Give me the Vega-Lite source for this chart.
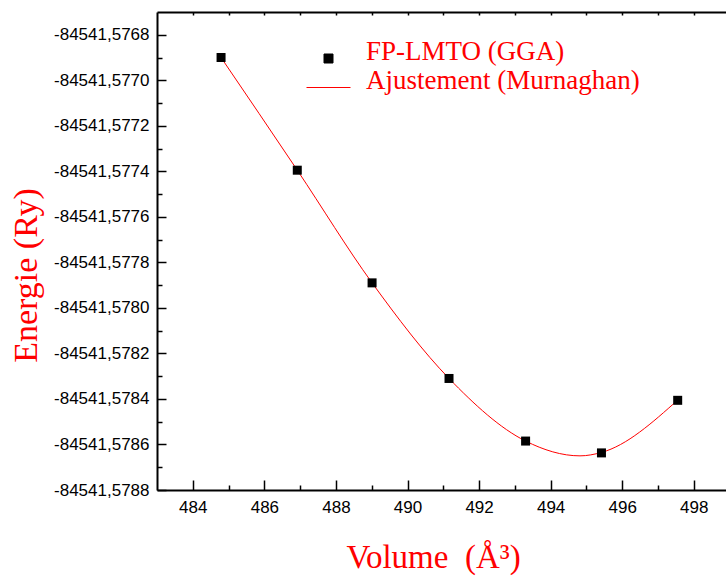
{
  "$schema": "https://vega.github.io/schema/vega-lite/v6.json",
  "width": 569,
  "height": 478,
  "autosize": {"type": "none"},
  "padding": {"left": 157, "top": 12, "right": 0, "bottom": 87},
  "background": "white",
  "config": {"view": {"stroke": null}},
  "datasets": {
    "pts": [
      {"V": 484.79, "E": -84541.57690, "series": "FP-LMTO (GGA)"},
      {"V": 486.92, "E": -84541.577395, "series": "FP-LMTO (GGA)"},
      {"V": 489.01, "E": -84541.57789, "series": "FP-LMTO (GGA)"},
      {"V": 491.16, "E": -84541.57831, "series": "FP-LMTO (GGA)"},
      {"V": 493.30, "E": -84541.578585, "series": "FP-LMTO (GGA)"},
      {"V": 495.42, "E": -84541.578637, "series": "FP-LMTO (GGA)"},
      {"V": 497.55, "E": -84541.578406, "series": "FP-LMTO (GGA)"}
    ],
    "fit": [
      {"V": 484.79, "E": -84541.57690, "series": "Ajustement (Murnaghan)"},
      {"V": 486.92, "E": -84541.577395, "series": "Ajustement (Murnaghan)"},
      {"V": 489.01, "E": -84541.57789, "series": "Ajustement (Murnaghan)"},
      {"V": 491.16, "E": -84541.57831, "series": "Ajustement (Murnaghan)"},
      {"V": 493.30, "E": -84541.578585, "series": "Ajustement (Murnaghan)"},
      {"V": 494.82, "E": -84541.57865, "series": "Ajustement (Murnaghan)"},
      {"V": 495.42, "E": -84541.578635, "series": "Ajustement (Murnaghan)"},
      {"V": 497.55, "E": -84541.578405, "series": "Ajustement (Murnaghan)"}
    ]
  },
  "resolve": {"axis": {"x": "independent", "y": "independent"}},
  "layer": [
    {
      "data": {"name": "fit"},
      "mark": {"type": "line", "strokeWidth": 1, "interpolate": "monotone"},
      "encoding": {
        "x": {
          "field": "V", "type": "quantitative",
          "scale": {"domain": [483, 498.9], "zero": false, "nice": false},
          "axis": {
            "orient": "bottom",
            "title": "Volume\u00a0 (Å³)",
            "titleFont": "Liberation Serif", "titleFontSize": 33, "titleColor": "red", "titleFontWeight": "normal",
            "titlePadding": 26,
            "titleX": 276,
            "values": [484, 486, 488, 490, 492, 494, 496, 498],
            "labelFont": "Liberation Sans", "labelFontSize": 17, "labelColor": "black",
            "labelPadding": 9,
            "labelFlush": false,
            "ticks": false,
            "domainColor": "black", "domainWidth": 2,
            "grid": false
          }
        },
        "y": {
          "field": "E", "type": "quantitative",
          "scale": {"domain": [-84541.5788, -84541.5767], "zero": false, "nice": false},
          "axis": {
            "orient": "left",
            "title": "Energie (Ry)",
            "titleFont": "Liberation Serif", "titleFontSize": 34, "titleColor": "red", "titleFontWeight": "normal",
            "titlePadding": 10,
            "titleY": 263,
            "values": [-84541.5788, -84541.5786, -84541.5784, -84541.5782, -84541.5780, -84541.5778, -84541.5776, -84541.5774, -84541.5772, -84541.5770, -84541.5768],
            "labelExpr": "'-' + replace(format(abs(datum.value), '.4f'), '.', ',')",
            "labelFont": "Liberation Sans", "labelFontSize": 17, "labelColor": "black",
            "labelPadding": 8,
            "labelFlush": false,
            "ticks": false,
            "domainColor": "black", "domainWidth": 2,
            "grid": false
          }
        },
        "color": {
          "field": "series", "type": "nominal",
          "scale": {"domain": ["FP-LMTO (GGA)", "Ajustement (Murnaghan)"], "range": ["black", "red"]},
          "legend": {
            "orient": "none", "legendX": 149, "legendY": 24,
            "title": null, "padding": 0,
            "labelFont": "Liberation Serif", "labelFontSize": 27, "labelColor": "red",
            "labelLimit": 600,
            "labelOffset": 15, "rowPadding": 0,
            "symbolSize": 784,
            "encode": {
              "labels": {"update": {"dy": {"value": -7}}},
              "symbols": {
                "update": {
                  "shape": {"signal": "datum.label === 'FP-LMTO (GGA)' ? 'square' : 'stroke'"},
                  "size": {"signal": "datum.label === 'FP-LMTO (GGA)' ? 81 : 1936"},
                  "fill": {"signal": "datum.label === 'FP-LMTO (GGA)' ? 'black' : 'transparent'"},
                  "stroke": {"signal": "datum.label === 'FP-LMTO (GGA)' ? 'black' : 'red'"},
                  "strokeWidth": {"value": 1},
                  "opacity": {"value": 1}
                }
              }
            }
          }
        }
      }
    },
    {
      "data": {"name": "pts"},
      "mark": {"type": "point", "shape": "square", "filled": true, "size": 81, "opacity": 1},
      "encoding": {
        "x": {
          "field": "V", "type": "quantitative",
          "axis": {
            "orient": "bottom", "title": null, "labels": false, "domain": false, "grid": false,
            "offset": -10,
            "values": [484, 486, 488, 490, 492, 494, 496, 498],
            "ticks": true, "tickSize": 10, "tickColor": "black", "tickWidth": 1.5
          }
        },
        "y": {
          "field": "E", "type": "quantitative",
          "axis": {
            "orient": "left", "title": null, "labels": false, "domain": false, "grid": false,
            "offset": -9,
            "values": [-84541.5788, -84541.5786, -84541.5784, -84541.5782, -84541.5780, -84541.5778, -84541.5776, -84541.5774, -84541.5772, -84541.5770, -84541.5768],
            "ticks": true, "tickSize": 9, "tickColor": "black", "tickWidth": 1.5
          }
        },
        "color": {"field": "series", "type": "nominal"}
      }
    },
    {
      "data": {"name": "pts"},
      "mark": {"type": "point", "shape": "square", "filled": true, "size": 81, "opacity": 0},
      "encoding": {
        "x": {
          "field": "V", "type": "quantitative",
          "axis": {
            "orient": "bottom", "title": null, "labels": false, "domain": false, "grid": false,
            "offset": -5,
            "values": [485, 487, 489, 491, 493, 495, 497],
            "ticks": true, "tickSize": 5, "tickColor": "black", "tickWidth": 1.5
          }
        },
        "y": {
          "field": "E", "type": "quantitative",
          "axis": {
            "orient": "left", "title": null, "labels": false, "domain": false, "grid": false,
            "offset": -5,
            "values": [-84541.5787, -84541.5785, -84541.5783, -84541.5781, -84541.5779, -84541.5777, -84541.5775, -84541.5773, -84541.5771, -84541.5769],
            "ticks": true, "tickSize": 5, "tickColor": "black", "tickWidth": 1.5
          }
        }
      }
    },
    {
      "data": {"name": "pts"},
      "mark": {"type": "point", "shape": "square", "filled": true, "size": 81, "opacity": 0},
      "encoding": {
        "x": {
          "field": "V", "type": "quantitative",
          "axis": {
            "orient": "top", "title": null, "labels": false, "grid": false,
            "values": [484, 485, 486, 487, 488, 489, 490, 491, 492, 493, 494, 495, 496, 497, 498],
            "ticks": false,
            "domainColor": "black", "domainWidth": 2
          }
        },
        "y": {"field": "E", "type": "quantitative", "axis": null}
      }
    },
    {
      "data": {"name": "pts"},
      "mark": {"type": "point", "shape": "square", "filled": true, "size": 81, "opacity": 0},
      "encoding": {
        "x": {
          "field": "V", "type": "quantitative",
          "axis": {
            "orient": "top", "title": null, "labels": false, "domain": false, "grid": false,
            "offset": -3,
            "values": [484, 485, 486, 487, 488, 489, 490, 491, 492, 493, 494, 495, 496, 497, 498],
            "ticks": true, "tickSize": 3, "tickColor": "black", "tickWidth": 1.5
          }
        },
        "y": {"field": "E", "type": "quantitative", "axis": null}
      }
    }
  ]
}
